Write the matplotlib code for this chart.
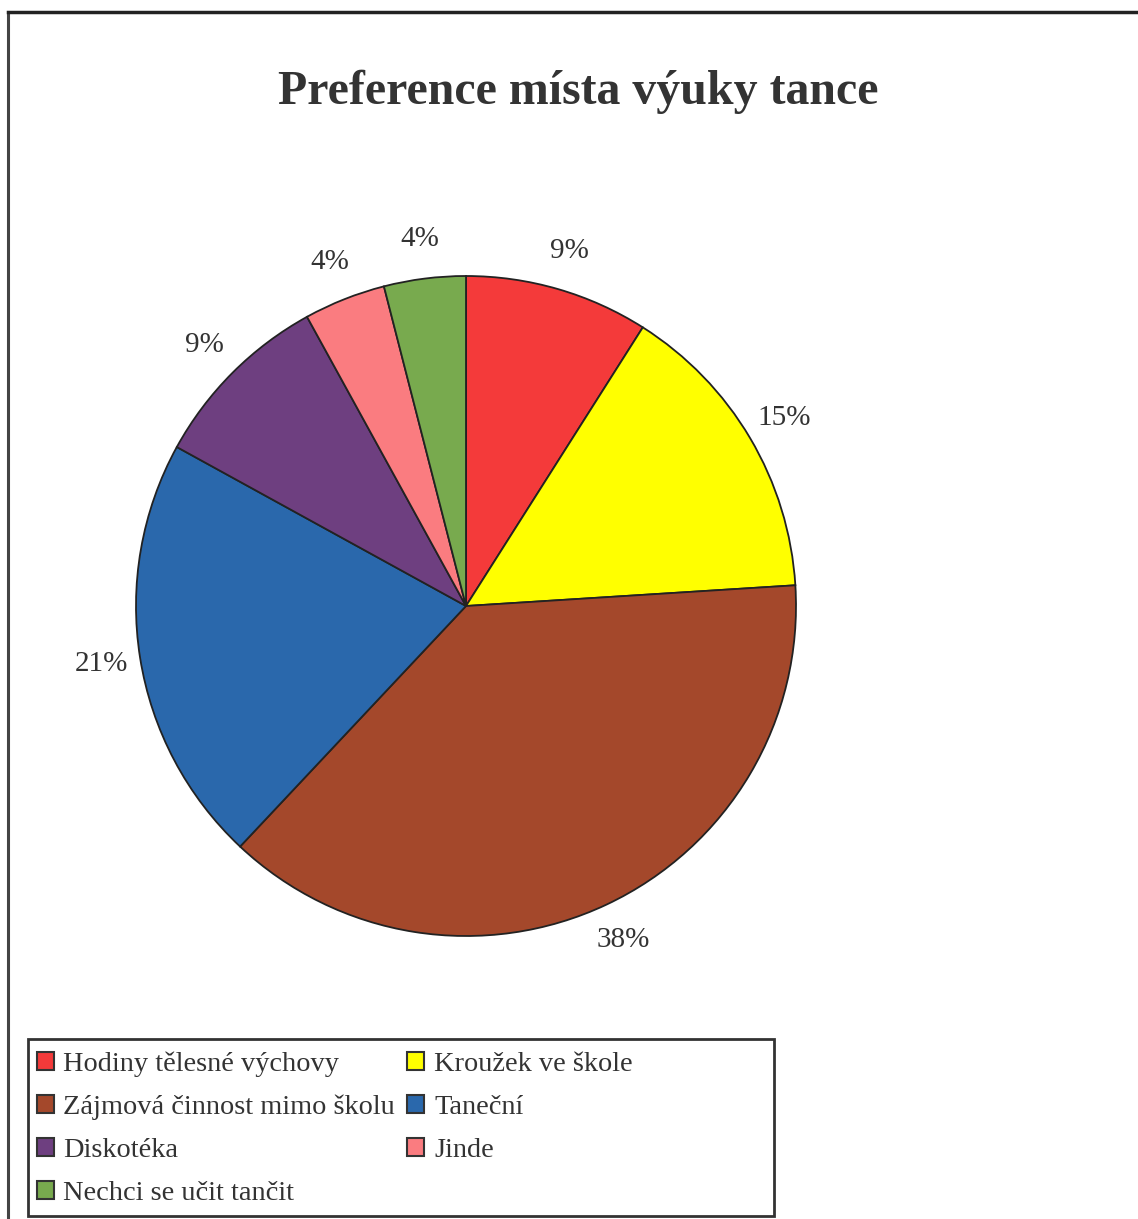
import matplotlib.pyplot as plt
from matplotlib.patches import Patch, Rectangle
from matplotlib.lines import Line2D

plt.rcParams['font.family'] = ['Liberation Serif', 'DejaVu Serif']

title = "Preference místa výuky tance"
categories = ["Hodiny tělesné výchovy", "Kroužek ve škole", "Zájmová činnost mimo školu",
              "Taneční", "Diskotéka", "Jinde", "Nechci se učit tančit"]
shares = [9, 15, 38, 21, 9, 4, 4]
colors = ["#F43A3A", "#FFFF00", "#A4482B", "#2A68AC", "#6E3F80", "#FA7C80", "#78AA4E"]

text_color = "#333333"
W, H = 1138, 1219
fig = plt.figure(figsize=(W / 100, H / 100), dpi=100)

# outer frame (only left and top edges are visible)
fig.add_artist(Line2D([8 / W, 8 / W], [0, 1 - 12 / H], color="#444444", lw=2.2))
fig.add_artist(Line2D([8 / W, 1], [1 - 12 / H, 1 - 12 / H], color="#222222", lw=2.5))

fig.text(578 / W, 1 - 92 / H, title, ha="center", va="center", fontsize=34.5,
         fontweight="bold", color=text_color)

# pie centered at (466, 606) px with radius 330 px
cx, cy, r = 466, 606, 330
ax = fig.add_axes([(cx - r) / W, 1 - (cy + r) / H, 2 * r / W, 2 * r / H])
wedges, texts, autotexts = ax.pie(
    shares, colors=colors, startangle=90, counterclock=False,
    autopct=lambda p: f"{p:.0f}%", pctdistance=1.12,
    wedgeprops=dict(edgecolor="#222222", linewidth=1.3),
    textprops=dict(fontsize=21, color=text_color))
ax.set_xlim(-1, 1)
ax.set_ylim(-1, 1)
ax.set_aspect("equal")
ax.axis("off")

# legend: row-major order in two columns
handles = [Patch(facecolor=c, edgecolor="#333333", linewidth=1.5) for c in colors]
order = [0, 2, 4, 6, 1, 3, 5]
fig.add_artist(Rectangle((28 / W, 1 - 1216 / H), (774 - 28) / W, (1216 - 1039) / H,
                         transform=fig.transFigure, facecolor="none",
                         edgecolor="#333333", linewidth=2))
fig.legend([handles[i] for i in order], [categories[i] for i in order],
           loc="upper left", bbox_to_anchor=(28 / W, 1 - 1043 / H), ncol=2,
           frameon=False, fontsize=20.4, handlelength=0.6, handleheight=0.6,
           handletextpad=0.35, labelspacing=0.63, columnspacing=0.42,
           borderaxespad=0, borderpad=0.3, labelcolor=text_color)

fig.savefig("out.png", dpi=100, facecolor="white")
